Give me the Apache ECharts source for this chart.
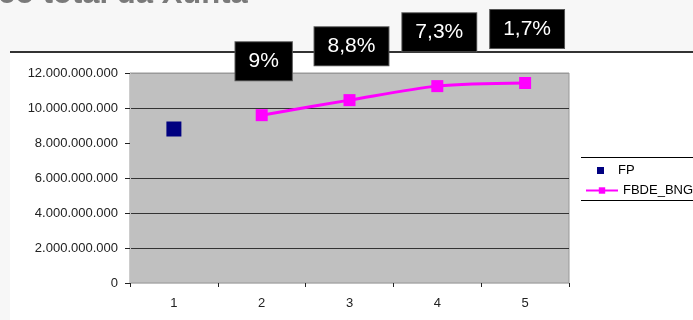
<!DOCTYPE html>
<html>
<head>
<meta charset="utf-8">
<script src="https://cdn.jsdelivr.net/npm/echarts@6/dist/echarts.min.js"></script>
<style>
  html, body { margin: 0; padding: 0; background: #f7f7f7; }
  #chart { width: 693px; height: 320px; }
</style>
</head>
<body>
<div id="chart"></div>
<script>
// datos
const categories = ['1', '2', '3', '4', '5'];
const fpValues = [8800000000, null, null, null, null];
const fbdeValues = [null, 9590000000, 10450000000, 11250000000, 11430000000];
const growthLabels = ['', '9%', '8,8%', '7,3%', '1,7%'];
const yTicks = { min: 0, max: 12000000000, interval: 2000000000 };

function fmtNum(v) {
    return String(v).replace(/\B(?=(\d{3})+(?!\d))/g, '.');
}

const chart = echarts.init(document.getElementById('chart'));
const option = {
    animation: false,
    backgroundColor: '#f7f7f7',
    textStyle: { fontFamily: 'Liberation Sans, Arial, sans-serif' },
    graphic: [
        // fondo branco baixo a liña
        { type: 'rect', left: 10, top: 53, shape: { width: 683, height: 267 }, style: { fill: '#ffffff' }, z: -10 },
        { type: 'line', shape: { x1: 10, y1: 52, x2: 693, y2: 52 }, style: { stroke: '#333333', lineWidth: 2 }, z: -5 },
        { type: 'text', left: -2, top: -21, style: { text: 'co total da Xunta', fontSize: 31, fontWeight: 'bold', fill: '#7a7a7a', fontFamily: 'Liberation Sans, Arial, sans-serif' } },
        // bordes da lenda
        { type: 'line', shape: { x1: 581, y1: 157.5, x2: 693, y2: 157.5 }, style: { stroke: '#000', lineWidth: 1 } },
        { type: 'line', shape: { x1: 581, y1: 200.5, x2: 693, y2: 200.5 }, style: { stroke: '#000', lineWidth: 1 } }
    ],
    grid: {
        left: 130, right: 124, top: 73, bottom: 37,
        show: true,
        backgroundColor: '#c0c0c0',
        borderColor: '#999999',
        borderWidth: 1
    },
    legend: [{
        data: [{ name: 'FP', icon: 'rect' }],
        left: 597, top: 164, padding: 0,
        itemWidth: 7, itemHeight: 7, itemGap: 16,
        textStyle: { fontSize: 13, color: '#000', padding: [0, 0, 0, 9] }
    }, {
        data: ['FBDE_BNG'],
        left: 585, top: 184, padding: 0,
        itemWidth: 32, itemHeight: 8, itemGap: 2,
        textStyle: { fontSize: 13, color: '#000' }
    }],
    xAxis: {
        type: 'category',
        data: categories,
        boundaryGap: true,
        axisLine: { show: true, lineStyle: { color: '#c0c0c0' } },
        axisTick: { show: true, length: 4, lineStyle: { color: '#222' } },
        axisLabel: { fontSize: 13, color: '#222', margin: 14 },
        splitLine: { show: false }
    },
    yAxis: {
        type: 'value',
        min: yTicks.min, max: yTicks.max, interval: yTicks.interval,
        axisLine: { show: true, lineStyle: { color: '#c0c0c0' } },
        axisTick: { show: true, length: 5, lineStyle: { color: '#222' } },
        axisLabel: { fontSize: 13, color: '#222', margin: 12, formatter: fmtNum },
        splitLine: {
            show: true,
            lineStyle: { color: ['transparent', '#333', '#333', '#333', 'transparent', '#333', '#999'], width: 1 }
        }
    },
    series: [{
        name: 'FP',
        type: 'line',
        data: fpValues,
        symbol: 'rect',
        symbolSize: 15,
        showSymbol: true,
        itemStyle: { color: '#000080' },
        lineStyle: { width: 0 }
    }, {
        name: 'FBDE_BNG',
        type: 'line',
        data: fbdeValues,
        smooth: 0.3,
        symbol: 'rect',
        symbolSize: 12,
        itemStyle: { color: '#ff00ff' },
        lineStyle: { color: '#ff00ff', width: 3 },
        label: {
            show: true,
            position: 'top',
            distance: 29,
            offset: [2, 0],
            formatter: function (p) { return growthLabels[p.dataIndex]; },
            color: '#ffffff',
            fontSize: 21,
            backgroundColor: '#000000',
            borderColor: '#555',
            borderWidth: 1,
            padding: [9, 13, 8, 13]
        }
    }]
};
chart.setOption(option);
</script>
</body>
</html>
